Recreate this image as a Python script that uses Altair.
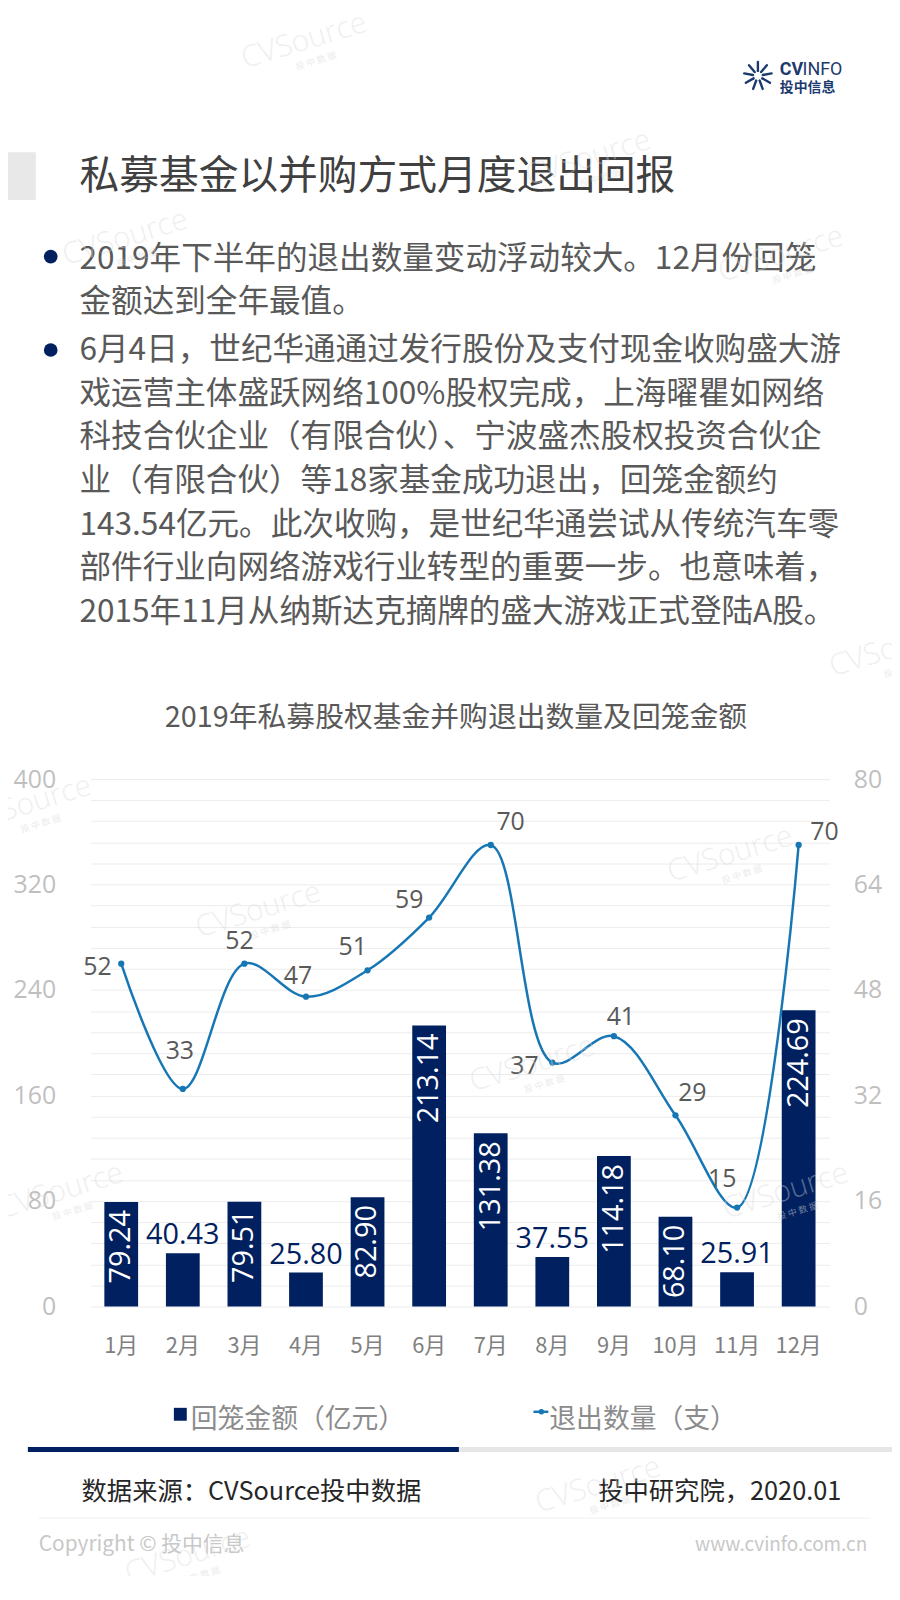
import math
import altair as alt
import pandas as pd

# ---------------- data ----------------
months = ["1月", "2月", "3月", "4月", "5月", "6月", "7月", "8月", "9月", "10月", "11月", "12月"]
amounts = [79.24, 40.43, 79.51, 25.80, 82.90, 213.14, 131.38, 37.55, 114.18, 68.10, 25.91, 224.69]
counts = [52, 33, 52, 47, 51, 59, 70, 37, 41, 29, 15, 70]
left_ticks = [0, 80, 160, 240, 320, 400]
right_ticks = [0, 16, 32, 48, 64, 80]

title_text = "私募基金以并购方式月度退出回报"
bullet1 = ["2019年下半年的退出数量变动浮动较大。12月份回笼",
           "金额达到全年最值。"]
bullet2 = ["6月4日，世纪华通通过发行股份及支付现金收购盛大游",
           "戏运营主体盛跃网络100%股权完成，上海曜瞿如网络",
           "科技合伙企业（有限合伙）、宁波盛杰股权投资合伙企",
           "业（有限合伙）等18家基金成功退出，回笼金额约",
           "143.54亿元。此次收购，是世纪华通尝试从传统汽车零",
           "部件行业向网络游戏行业转型的重要一步。也意味着，",
           "2015年11月从纳斯达克摘牌的盛大游戏正式登陆A股。"]
chart_title = "2019年私募股权基金并购退出数量及回笼金额"
legend_bar = "回笼金额（亿元）"
legend_line = "退出数量（支）"
source_text = "数据来源：CVSource投中数据"
org_text = "投中研究院，2020.01"
copyright_text = "Copyright © 投中信息"
site_text = "www.cvinfo.com.cn"

df = pd.DataFrame({"month": months, "amount": amounts, "count": counts})
df["amount_label"] = [f"{v:.2f}" for v in amounts]
one = pd.DataFrame({"k": [0]})

# ---------------- style ----------------
NAVY = "#002060"
BLUE = "#1777b5"
CJK = "Noto Sans CJK SC"
NUM = "Open Sans"
W, H = 744, 531

x_enc = alt.X("month:N", sort=months,
              scale=alt.Scale(paddingInner=0, paddingOuter=0),
              axis=alt.Axis(title=None, domain=False, ticks=False, grid=False,
                            labelAngle=0, labelColor="#808080", labelFont=CJK,
                            labelFontSize=22, labelPadding=29))

y_left = alt.Y("amount:Q",
               scale=alt.Scale(domain=[left_ticks[0], left_ticks[-1]], nice=False),
               axis=alt.Axis(title=None, values=list(range(0, 401, 16)),
                             labelExpr="datum.value % 80 === 0 ? datum.label : ''",
                             labelOverlap=False, labelFlush=False,
                             domain=False, ticks=False, grid=True,
                             gridColor="#ececec", gridWidth=1,
                             labelColor="#bfbfbf", labelFont=NUM,
                             labelFontSize=25, labelPadding=35))

y_right = alt.Y("count:Q",
                scale=alt.Scale(domain=[right_ticks[0], right_ticks[-1]], nice=False),
                axis=alt.Axis(title=None, orient="right", values=right_ticks,
                              labelOverlap=False, labelFlush=False,
                              domain=False, ticks=False, grid=False,
                              labelColor="#bfbfbf", labelFont=NUM,
                              labelFontSize=25, labelAlign="left",
                              labelPadding=24))

base = alt.Chart(df)

bars = base.mark_bar(size=34, color=NAVY).encode(x=x_enc, y=y_left)
bar_in = base.transform_filter("datum.amount >= 60").mark_text(
    angle=270, align="right", baseline="middle", dx=-8, color="white",
    font=NUM, fontSize=29).encode(x=x_enc, y=y_left, text="amount_label:N")
bar_out = base.transform_filter("datum.amount < 60").mark_text(
    align="center", baseline="bottom", dy=-3, color=NAVY,
    font=NUM, fontSize=29).encode(x=x_enc, y=y_left, text="amount_label:N")
bar_layer = alt.layer(bars, bar_in, bar_out)

line = base.mark_line(interpolate="catmull-rom", color=BLUE, strokeWidth=2.5).encode(x=x_enc, y=y_right)
pts = base.mark_circle(size=40, color=BLUE, opacity=1).encode(x=x_enc, y=y_right)
label_offsets = {"1月": (-24, 3), "2月": (-3, -38), "3月": (-5, -23), "4月": (-8, -21),
                 "5月": (-15, -23), "6月": (-20, -18), "7月": (20, -23), "8月": (-28, 3),
                 "9月": (7, -19), "10月": (17, -22), "11月": (-15, -29), "12月": (26, -13)}
line_labels = []
for m in months:
    ddx, ddy = label_offsets[m]
    line_labels.append(
        base.transform_filter(alt.datum.month == m).mark_text(
            dx=ddx, dy=ddy, align="center", baseline="middle", color="#595959",
            font=NUM, fontSize=25).encode(x=x_enc, y=y_right, text="count:Q"))
line_layer = alt.layer(line, pts, *line_labels)


# ---------------- decorations (view coordinates) ----------------
def txt(text, x, y, size, color, align="left", weight="normal", font=CJK,
        baseline="middle", **kw):
    return alt.Chart(one).mark_text(text=text, align=align, baseline=baseline,
                                    fontSize=size, color=color, fontWeight=weight,
                                    font=font, **kw).encode(x=alt.value(x), y=alt.value(y))


def hrule(x1, x2, y, color, width):
    return alt.Chart(one).mark_rule(color=color, strokeWidth=width).encode(
        x=alt.value(x1), x2=alt.value(x2), y=alt.value(y))


def rect(x1, x2, y1, y2, color):
    return alt.Chart(one).mark_rect(color=color).encode(
        x=alt.value(x1), x2=alt.value(x2), y=alt.value(y1), y2=alt.value(y2))


decos = []
# header block + title
decos.append(rect(-83, -55, -631, -583, "#e8e8e8"))
decos.append(txt(title_text, -11, -606, 40, "#404040"))
# logo
cx, cy = 672, -708
for a in range(110, 450, 40):
    r = math.radians(a)
    decos.append(alt.Chart(one).mark_rule(color="#1c3a6e", strokeWidth=2.4, strokeCap="round").encode(
        x=alt.value(cx + 5 * math.cos(r)), y=alt.value(cy + 5 * math.sin(r)),
        x2=alt.value(cx + 14 * math.cos(r)), y2=alt.value(cy + 14 * math.sin(r))))
decos.append(txt("CV", 694, -714, 18, "#1c3a6e", weight="bold", font="Roboto"))
decos.append(txt("INFO", 717, -714, 18, "#1c3a6e", font="Roboto"))
decos.append(txt("投中信息", 694, -696, 14, "#1c3a6e", weight="bold"))
# bullets
decos.append(alt.Chart(one).mark_circle(size=190, color=NAVY, opacity=1).encode(
    x=alt.value(-40), y=alt.value(-526)))
decos.append(alt.Chart(one).mark_circle(size=190, color=NAVY, opacity=1).encode(
    x=alt.value(-40), y=alt.value(-432)))
decos.append(txt(bullet1, -11, -524, 31.8, "#595959", lineHeight=44))
decos.append(txt(bullet2, -11, -432, 31.8, "#595959", lineHeight=44))
# chart title
decos.append(txt(chart_title, 368, -61, 29, "#595959", align="center"))
# legend
decos.append(rect(84, 97, 633, 646, NAVY))
decos.append(txt(legend_bar, 101, 645, 27, "#8c8c8c"))
decos.append(hrule(446, 461, 637, BLUE, 2.5))
decos.append(alt.Chart(one).mark_circle(size=30, color=BLUE, opacity=1).encode(
    x=alt.value(454), y=alt.value(637)))
decos.append(txt(legend_line, 462, 645, 27, "#8c8c8c"))
# footer
decos.append(hrule(-63, 371, 675, NAVY, 5))
decos.append(hrule(371, 810, 675, "#e6e6e6", 5))
decos.append(txt(source_text, -9, 718, 25.5, "#262626"))
decos.append(txt(org_text, 756, 718, 25.5, "#262626", align="right"))
decos.append(hrule(-52, 785, 744, "#f0f0f0", 1))
decos.append(txt(copyright_text, -52, 771, 21, "#c8c8c8"))
decos.append(txt(site_text, 782, 771, 19, "#c8c8c8", align="right"))

# watermarks
wm_pos = [(215, -743), (501, -625), (695, -528), (35, -545), (-62, 25),
          (644, 76), (169, 132), (445, 287), (-30, 415), (700, 415), (511, 711),
          (98, 782), (807, -131)]
for (wx, wy) in wm_pos:
    decos.append(txt("CVSource", wx, wy, 30, "#d9d9d9", align="center", font=NUM,
                     weight=300, angle=343, opacity=0.4))
    decos.append(txt("投 中 数 据", wx + 12, wy + 20, 9, "#d9d9d9", align="center",
                     angle=343, opacity=0.5))

chart = alt.layer(bar_layer, line_layer, *decos).resolve_scale(y="independent").properties(
    width=W, height=H,
    autosize=alt.AutoSizeParams(type="none"),
    padding={"left": 83, "top": 771, "right": 63, "bottom": 266},
    background="white",
).configure_view(stroke=None)

chart.save("out.html", embed_options={"renderer": "svg", "actions": False})
